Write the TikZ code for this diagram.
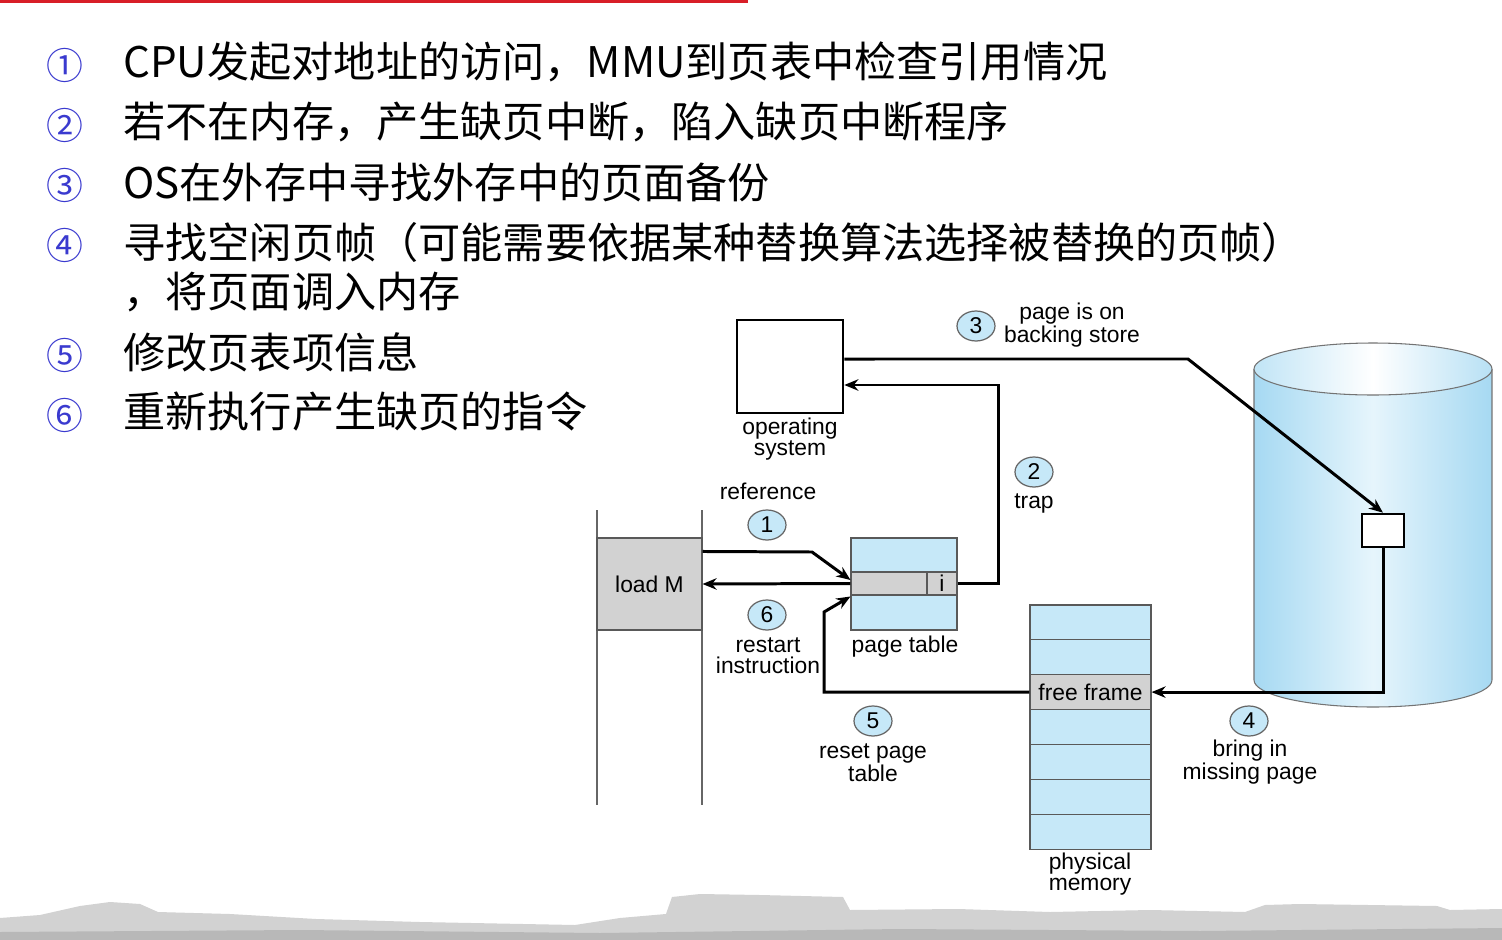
\documentclass[tikz,border=0pt]{standalone}
\usepackage{fontspec}
\setmainfont{Liberation Sans}
\newfontfamily\cjk{Noto Sans CJK SC}
\usetikzlibrary{arrows.meta,shapes.geometric,calc}
\definecolor{pblue}{HTML}{C6E8F8}
\definecolor{pgray}{HTML}{D2D2D2}
\definecolor{numblue}{HTML}{3A3ACF}
\definecolor{topred}{HTML}{D81E28}
\definecolor{cylD}{HTML}{A6D9F2}
\definecolor{cylL}{HTML}{E6F5FC}
\definecolor{sky}{HTML}{D2D2D2}
\begin{document}
\begin{tikzpicture}[x=0.02cm,y=-0.02cm,
  bullet/.style={anchor=west,font=\cjk\fontsize{24}{28}\selectfont,inner sep=0pt},
  num/.style={font=\cjk\fontsize{21}{24}\selectfont,text=numblue,inner sep=0pt},
  lbl/.style={font=\fontsize{13}{12}\selectfont,align=center,inner sep=0pt},
  numc/.style={ellipse,draw=black!60,fill=pblue,line width=0.7pt,minimum width=0.76cm,minimum height=0.6cm,inner sep=0pt,font=\fontsize{13}{13}\selectfont},
  cell/.style={rectangle,draw=black!65,line width=0.6pt,inner sep=0pt,font=\fontsize{13}{13}\selectfont},
  memrow/.style={cell,fill=pblue,minimum width=2.42cm,minimum height=0.697cm},
  arr/.style={-{Stealth[length=8pt,width=6.5pt]},line width=1.7pt}
]
\useasboundingbox (0,0) rectangle (1502,940);
\fill[white] (0,0) rectangle (1502,940);

% top red line
\fill[topred] (0,0) rectangle (748,2.5);

% bottom skyline
\fill[sky] (0,940) -- (0,918) -- (40,915) -- (80,906) -- (110,902) -- (140,904) -- (158,912)
  -- (230,914) -- (316,919) -- (420,922) -- (575,925) -- (620,918) -- (666,914) -- (672,897)
  -- (700,894) -- (760,895) -- (843,897) -- (850,910) -- (958,909) -- (1050,912) -- (1150,910)
  -- (1245,912) -- (1265,905) -- (1300,904) -- (1437,906) -- (1450,910) -- (1502,909) -- (1502,940) -- cycle;
\fill[black!28] (0,940) -- (0,932) -- (300,930) -- (600,933) -- (900,929) -- (1200,931) -- (1502,928) -- (1502,940) -- cycle;

% bullets
\node[num] (n1) at (65,65) {①};
\node[num] (n2) at (65,125) {②};
\node[num] (n3) at (65,185) {③};
\node[num] (n4) at (65,245) {④};
\node[num] (n5) at (65,355) {⑤};
\node[num] (n6) at (65,415) {⑥};
\node[bullet] (t1) at (123,62) {CPU发起对地址的访问，MMU到页表中检查引用情况};
\node[bullet] (t2) at (123,122) {若不在内存，产生缺页中断，陷入缺页中断程序};
\node[bullet] (t3) at (123,182) {OS在外存中寻找外存中的页面备份};
\node[bullet] (t4) at (123,242) {寻找空闲页帧（可能需要依据某种替换算法选择被替换的页帧）};
\node[bullet] (t4b) at (123,292) {，将页面调入内存};
\node[bullet] (t5) at (123,352) {修改页表项信息};
\node[bullet] (t6) at (123,412) {重新执行产生缺页的指令};

% cylinder (backing store)
\shade[left color=cylD,right color=cylD,middle color=cylL]
  (1254,369) -- (1254,680) arc[start angle=180,end angle=0,x radius=119,y radius=27] -- (1492,369) -- cycle;
\draw[black!55,line width=0.6pt]
  (1254,369) -- (1254,680) arc[start angle=180,end angle=0,x radius=119,y radius=27] -- (1492,369);
\shade[left color=cylD!70!white,right color=cylD!80!white,middle color=white,draw=black!55,line width=0.6pt]
  (1373,369) ellipse[x radius=119,y radius=26];

% program
\draw[black!60,line width=0.6pt] (597,510) -- (597,805);
\draw[black!60,line width=0.6pt] (702,510) -- (702,805);
\node[cell,fill=pgray,minimum width=2.1cm,minimum height=1.84cm] (loadM) at (649.5,584) {load M};

% operating system
\node[draw,line width=1.5pt,minimum width=2.12cm,minimum height=1.86cm,inner sep=0pt] (os) at (790,366.5) {};
\node[lbl] (oslbl) at (790,439) {operating\\system};

% page table
\node[cell,fill=pblue,minimum width=2.12cm,minimum height=0.68cm] (ptTop) at (904,555) {};
\node[cell,fill=pgray,minimum width=1.52cm,minimum height=0.46cm] (ptMid) at (889,583.5) {};
\node[cell,fill=pgray,minimum width=0.6cm,minimum height=0.46cm] (ptI) at (942,583.5) {i};
\node[cell,fill=pblue,minimum width=2.12cm,minimum height=0.7cm] (ptBot) at (904,612.5) {};
\node[lbl] (ptlbl) at (905,647) {page table};

% physical memory
\node[memrow] (m1) at (1090.5,622.4) {};
\node[memrow] (m2) at (1090.5,657.3) {};
\node[memrow,fill=pgray] (free) at (1090.5,692.1) {free frame};
\node[memrow] (m4) at (1090.5,727.0) {};
\node[memrow] (m5) at (1090.5,761.9) {};
\node[memrow] (m6) at (1090.5,796.7) {};
\node[memrow] (m7) at (1090.5,831.6) {};
\node[lbl] (pmlbl) at (1090,874) {physical\\memory};

% page on disk
\node[draw,fill=white,line width=1.5pt,minimum width=0.84cm,minimum height=0.66cm,inner sep=0pt] (dbox) at (1383,530.5) {};

% step markers and labels
\node[lbl] (reflbl) at (768,491) {reference};
\node[numc] (c1) at (767,525) {1};
\node[numc] (c2) at (1034,472) {2};
\node[lbl] (traplbl) at (1034,503) {trap};
\node[numc] (c3) at (976,326) {3};
\node[lbl] (bslbl) at (1072,325) {page is on\\backing store};
\node[numc] (c4) at (1249,721) {4};
\node[lbl] (bilbl) at (1250,762) {bring in\\missing page};
\node[numc] (c5) at (873,721) {5};
\node[lbl] (rplbl) at (873,763) {reset page\\table};
\node[numc] (c6) at (767,615) {6};
\node[lbl] (rilbl) at (768,656) {restart\\instruction};

% connectors
\coordinate (k1) at (812,552);
\draw[arr] ([yshift=-0.28cm]loadM.north east) -- (k1) -- ([yshift=0.07cm]ptMid.west);
\draw[arr] (ptMid.west) -- (loadM.east);
\draw[arr] (ptI.east) -- ++(41,0) |- ([yshift=-0.37cm]os.east);
\coordinate (k3) at (1188,359);
\draw[arr] ([yshift=0.15cm]os.east) -- (k3) -- (dbox.north);
\draw[arr] (dbox.south) |- (free.east);
\coordinate (k5a) at (824,692);
\coordinate (k5b) at (824,612);
\draw[arr] (free.west) -- (k5a) -- (k5b) -- ([yshift=-0.04cm]ptBot.north west);
\end{tikzpicture}
\end{document}
